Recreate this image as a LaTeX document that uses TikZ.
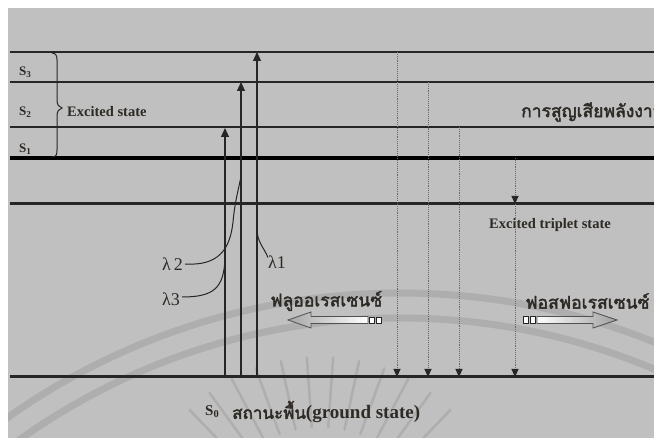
\documentclass[tikz,border=0pt]{standalone}
\usepackage{fontspec}
\setmainfont{Liberation Serif}
\newfontfamily\thaifont[Script=Thai,AutoFakeBold=2.2]{Loma}
\usetikzlibrary{arrows.meta}
\definecolor{panel}{HTML}{C0C0C0}
\definecolor{wm}{HTML}{AEAEAE}
\definecolor{ink}{HTML}{262626}
\definecolor{txt}{HTML}{2E2A26}
\definecolor{dots}{HTML}{6A6A6A}
\tikzset{
  level/.style={draw=ink,line width=1.7pt},
  thicklevel/.style={draw=black,line width=3.8pt},
  midlevel/.style={draw=ink,line width=3pt},
  absorb/.style={draw=ink,line width=1.1pt,-{Triangle[length=9pt,width=8pt]}},
  decay/.style={draw=dots,line width=0.9pt,densely dotted,-{Triangle[length=8pt,width=7pt,fill=ink,color=ink]}},
  lbl/.style={text=txt,font=\bfseries\fontsize{14.5}{16}\selectfont,inner sep=0pt,anchor=west},
  slbl/.style={text=txt,font=\bfseries\fontsize{13}{14}\selectfont,inner sep=0pt,anchor=west},
  thai/.style={text=txt,font=\thaifont\bfseries\fontsize{17.5}{19}\selectfont,inner sep=0pt,anchor=west},
  lam/.style={text=txt,font=\fontsize{18}{20}\selectfont,inner sep=0pt,anchor=west},
  lamcurve/.style={draw=ink,line width=1pt},
  blockarrow/.style={draw=ink!80,line width=0.8pt},
  tailbox/.style={draw=ink,line width=0.8pt,fill=white},
  wmband/.style={draw=wm,line width=7pt},
  wmray/.style={draw=wm,line width=2.5pt,line cap=round}
}
\begin{document}
\begin{tikzpicture}[x=1pt,y=-1pt]
\useasboundingbox (0,0) rectangle (654,438);
\clip (0,0) rectangle (654,438);
\fill[white] (0,0) rectangle (654,438);
\fill[panel] (8,8) rectangle (654,438);

% faint watermark
\begin{scope}
\clip (8,8) rectangle (654,438);
\draw[wmband] (400,973) circle[radius=680];
\draw[wmband] (400,973) circle[radius=655];
\foreach \a in {46,54,62,70,78,86,94,102,110,118,126,134}
  \draw[wmray] (320,545) ++(\a:-118) -- ++(\a:-70);
\end{scope}

% energy levels
\coordinate (s3l) at (10,52);  \coordinate (s3r) at (660,52);
\coordinate (s2l) at (10,82);  \coordinate (s2r) at (660,82);
\coordinate (s1l) at (10,127); \coordinate (s1r) at (660,127);
\coordinate (s0l) at (10,158); \coordinate (s0r) at (660,158);
\coordinate (tl) at (10,204);  \coordinate (tr) at (660,204);
\coordinate (gl) at (10,377);  \coordinate (gr) at (660,377);
\draw[level] (s3l) -- (s3r);
\draw[level] (s2l) -- (s2r);
\draw[level] (s1l) -- (s1r);
\draw[thicklevel] (s0l) -- (s0r);
\draw[midlevel] (tl) -- (tr);
\draw[midlevel] (gl) -- (gr);

% labels S
\node[slbl] (S3) at (19,72) {S\textsubscript{3}};
\node[slbl] (S2) at (19,112) {S\textsubscript{2}};
\node[slbl] (S1) at (19,149) {S\textsubscript{1}};

% brace
\draw[ink,line width=1pt] (52,53) .. controls (56,53) and (57,56) .. (57,60)
  -- (57,100) .. controls (57,105) and (59,107) .. (62,108)
  .. controls (59,109) and (57,111) .. (57,116)
  -- (57,150) .. controls (57,155) and (56,157) .. (52,157);
\node[lbl] (exc) at (67,112) {Excited state};

\node[thai] (loss) at (521,112) {การสูญเสียพลังงาน};
\node[lbl] (trip) at (489,225) {Excited triplet state};

% absorption arrows
\coordinate (a1b) at (225,377); \coordinate (a1t) at (225,128);
\coordinate (a2b) at (241,377); \coordinate (a2t) at (241,82);
\coordinate (a3b) at (257,377); \coordinate (a3t) at (257,52);
\draw[absorb] (a1b) -- (a1t);
\draw[absorb] (a2b) -- (a2t);
\draw[absorb] (a3b) -- (a3t);

% decay arrows
\coordinate (d1t) at (397,52);  \coordinate (d1b) at (397,377);
\coordinate (d2t) at (428,82);  \coordinate (d2b) at (428,377);
\coordinate (d3t) at (459,127); \coordinate (d3b) at (459,377);
\coordinate (d4t) at (515,158); \coordinate (d4m) at (515,204); \coordinate (d4b) at (515,377);
\draw[decay] (d1t) -- (d1b);
\draw[decay] (d2t) -- (d2b);
\draw[decay] (d3t) -- (d3b);
\draw[decay] (d4t) -- (d4m);
\draw[decay] (d4m) -- (d4b);

% lambda labels
\node[lam] (l2) at (162,264) {λ\,2};
\node[lam] (l3) at (162,299) {λ3};
\node[lam] (l1) at (268,262) {λ1};
\draw[lamcurve] (l2.east) ++(2,0) .. controls (218,266) and (230,250) .. (233,222)
  .. controls (235,200) and (239,188) .. (241,176);
\draw[lamcurve] (l3.east) ++(2,-2) .. controls (214,297) and (224,288) .. (225,258);
\draw[lamcurve] (l1.north west) ++(0,2) .. controls (263,246) and (257,242) .. (257,228);

% fluorescence
\node[thai] (fl) at (270,301) {ฟลูออเรสเซนซ์};
\shade[left color=gray!70,right color=white,blockarrow]
  (288,320) -- (311,312) -- (311,316.5) -- (368,316.5) -- (368,323.5) -- (311,323.5) -- (311,328) -- cycle;
\draw[tailbox] (369,317) rectangle (374,323);
\draw[tailbox] (376,317) rectangle (381,323);

% phosphorescence
\node[thai] (ph) at (525,301) {ฟอสฟอเรสเซนซ์};
\draw[tailbox] (523,316) rectangle (528,323);
\draw[tailbox] (530,316) rectangle (535,323);
\shade[left color=white,right color=gray!75,blockarrow]
  (537,316.5) -- (593,316.5) -- (593,312) -- (617,320) -- (593,328) -- (593,323.5) -- (537,323.5) -- cycle;

% ground state
\node[slbl,font=\bfseries\fontsize{15}{16}\selectfont] (S0) at (205,412) {S\textsubscript{0}};
\node[thai,font=\thaifont\bfseries\fontsize{17}{19}\selectfont] (gs) at (232,412) {สถานะพื้น{\rmfamily\bfseries\fontsize{19}{21}\selectfont(ground state)}};
\end{tikzpicture}
\end{document}
